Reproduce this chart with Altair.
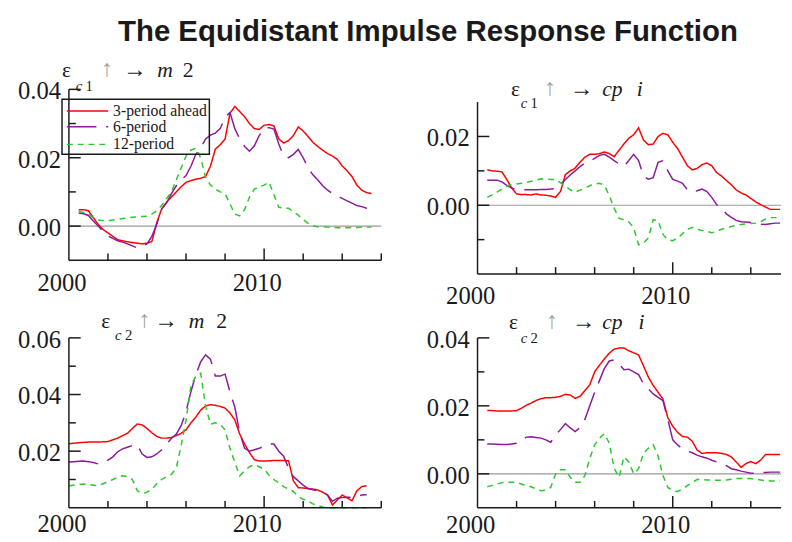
import altair as alt
import pandas as pd

SERIES = ["3-period ahead", "6-period", "12-period"]
COLORS = ["#ff0000", "#8a1a9a", "#2ac82a"]
DASHES = [[1, 0], [30, 10], [6, 5]]
INK = "#1a1a1a"
ARROW_GREY = "#a0a0a0"
SERIF = "Liberation Serif"

# quarterly time grids
years_a = [2000.5 + 0.25 * i for i in range(61)]   # 2000.5 .. 2015.5
years_b = [2000.0 + 0.25 * i for i in range(62)]   # 2000.0 .. 2015.25

# ---- panel 1: eps_c1 -> m2 ----
p1_red = [0.0048, 0.0048, 0.0045, 0.0025, 0.0005, -0.0010, -0.0020, -0.0030, -0.0040, -0.0043,
          -0.0046, -0.0048, -0.0050, -0.0052, -0.0050, -0.0045, 0.0010, 0.0050, 0.0070, 0.0085,
          0.0100, 0.0115, 0.0128, 0.0133, 0.0137, 0.0140, 0.0145, 0.0175, 0.0225, 0.0238,
          0.0255, 0.0330, 0.0350, 0.0335, 0.0320, 0.0300, 0.0285, 0.0283, 0.0295, 0.0297,
          0.0293, 0.0255, 0.0243, 0.0250, 0.0265, 0.0290, 0.0278, 0.0262, 0.0245, 0.0233,
          0.0222, 0.0212, 0.0205, 0.0195, 0.0176, 0.0162, 0.0145, 0.0120, 0.0105, 0.0098,
          0.0095]
p1_purple = [0.0038, 0.0036, 0.0031, 0.0015, 0.0000, -0.0015, -0.0029, -0.0036, -0.0043, -0.0047,
             -0.0052, -0.0058, -0.0064, -0.0060, -0.0052, -0.0030, 0.0005, 0.0050, 0.0067, 0.0095,
             0.0118, 0.0135, 0.0148, 0.0175, 0.0210, 0.0228, 0.0255, 0.0266, 0.0272, 0.0285,
             0.0319, 0.0332, 0.0285, 0.0255, 0.0233, 0.0219, 0.0235, 0.0265, 0.0286, 0.0288,
             0.0284, 0.0240, 0.0205, 0.0200, 0.0210, 0.0224, 0.0200, 0.0170, 0.0150, 0.0135,
             0.0118, 0.0105, 0.0095, 0.0088, 0.0081, 0.0074, 0.0067, 0.0060, 0.0057, 0.0052,
             0.0048]
p1_green = [0.0043, 0.0040, 0.0036, 0.0024, 0.0018, 0.0016, 0.0016, 0.0018, 0.0020, 0.0022,
            0.0024, 0.0026, 0.0027, 0.0028, 0.0029, 0.0035, 0.0045, 0.0060, 0.0080, 0.0100,
            0.0135, 0.0170, 0.0205, 0.0222, 0.0228, 0.0200, 0.0143, 0.0120, 0.0108, 0.0100,
            0.0095, 0.0065, 0.0035, 0.0030, 0.0048, 0.0085, 0.0108, 0.0115, 0.0120, 0.0128,
            0.0092, 0.0055, 0.0052, 0.0052, 0.0042, 0.0032, 0.0019, 0.0008, 0.0000, -0.0002,
            -0.0002, -0.0003, -0.0004, -0.0005, -0.0005, -0.0005, -0.0004, -0.0004, -0.0003, -0.0003,
            -0.0003]

# ---- panel 2: eps_c1 -> cpi ----
p2_red = [0.0103, 0.0100, 0.0099, 0.0097, 0.0075, 0.0050, 0.0033, 0.0031, 0.0031, 0.0030,
          0.0033, 0.0030, 0.0029, 0.0027, 0.0023, 0.0040, 0.0089, 0.0100, 0.0108, 0.0125,
          0.0140, 0.0148, 0.0148, 0.0150, 0.0155, 0.0150, 0.0141, 0.0160, 0.0178, 0.0195,
          0.0205, 0.0225, 0.0190, 0.0176, 0.0178, 0.0200, 0.0209, 0.0205, 0.0183, 0.0165,
          0.0140, 0.0115, 0.0103, 0.0107, 0.0118, 0.0123, 0.0115, 0.0095, 0.0085, 0.0072,
          0.0060, 0.0045, 0.0036, 0.0030, 0.0020, 0.0010, 0.0002, -0.0005, -0.0012, -0.0012,
          -0.0012]
p2_purple = [0.0073, 0.0073, 0.0073, 0.0068, 0.0058, 0.0050, 0.0046, 0.0045, 0.0045, 0.0045,
             0.0045, 0.0046, 0.0046, 0.0047, 0.0049, 0.0060, 0.0075, 0.0088, 0.0100, 0.0112,
             0.0123, 0.0128, 0.0136, 0.0145, 0.0148, 0.0140, 0.0130, 0.0120, 0.0113, 0.0130,
             0.0148, 0.0130, 0.0085, 0.0076, 0.0080, 0.0125, 0.0130, 0.0100, 0.0075, 0.0070,
             0.0064, 0.0045, 0.0038, 0.0042, 0.0047, 0.0040, 0.0023, 0.0002, -0.0010, -0.0025,
             -0.0035, -0.0044, -0.0048, -0.0049, -0.0050, -0.0052, -0.0055, -0.0056, -0.0054, -0.0052,
             -0.0052]
p2_green = [0.0023, 0.0030, 0.0038, 0.0047, 0.0056, 0.0060, 0.0062, 0.0064, 0.0066, 0.0070,
            0.0073, 0.0077, 0.0076, 0.0075, 0.0075, 0.0065, 0.0056, 0.0045, 0.0038, 0.0044,
            0.0049, 0.0057, 0.0061, 0.0064, 0.0058, 0.0028, -0.0009, -0.0038, -0.0042, -0.0048,
            -0.0066, -0.0115, -0.0110, -0.0095, -0.0042, -0.0045, -0.0085, -0.0100, -0.0103, -0.0095,
            -0.0083, -0.0070, -0.0064, -0.0070, -0.0073, -0.0076, -0.0080, -0.0076, -0.0070, -0.0066,
            -0.0062, -0.0058, -0.0056, -0.0054, -0.0053, -0.0052, -0.0048, -0.0040, -0.0036, -0.0036,
            -0.0036]

# ---- panel 3: eps_c2 -> m2 ----
p3_red = [0.0226, 0.0228, 0.0230, 0.0231, 0.0232, 0.0232, 0.0232, 0.0233, 0.0234, 0.0240,
          0.0246, 0.0255, 0.0263, 0.0280, 0.0296, 0.0293, 0.0280, 0.0265, 0.0252, 0.0246,
          0.0246, 0.0248, 0.0255, 0.0263, 0.0275, 0.0300, 0.0320, 0.0345, 0.0360, 0.0364,
          0.0362, 0.0358, 0.0352, 0.0335, 0.0310, 0.0260, 0.0225, 0.0195, 0.0170, 0.0165,
          0.0165, 0.0166, 0.0167, 0.0167, 0.0167, 0.0166, 0.0095, 0.0071, 0.0070, 0.0068,
          0.0066, 0.0063, 0.0055, 0.0045, 0.0010, 0.0028, 0.0045, 0.0035, 0.0025, 0.0060,
          0.0075, 0.0078]
p3_purple = [0.0162, 0.0163, 0.0164, 0.0165, 0.0163, 0.0160, 0.0155, 0.0158, 0.0168, 0.0180,
             0.0198, 0.0208, 0.0214, 0.0220, 0.0223, 0.0190, 0.0178, 0.0180, 0.0190, 0.0205,
             0.0225, 0.0245, 0.0260, 0.0290, 0.0340, 0.0410, 0.0470, 0.0515, 0.0540, 0.0525,
             0.0465, 0.0465, 0.0472, 0.0410, 0.0355, 0.0265, 0.0210, 0.0200, 0.0205, 0.0210,
             0.0218, 0.0226, 0.0225, 0.0200, 0.0182, 0.0140, 0.0110, 0.0095, 0.0080, 0.0068,
             0.0064, 0.0060, 0.0055, 0.0045, 0.0023, 0.0034, 0.0036, 0.0037, 0.0037, 0.0040,
             0.0045, 0.0046]
p3_green = [0.0078, 0.0080, 0.0082, 0.0084, 0.0082, 0.0080, 0.0078, 0.0085, 0.0092, 0.0100,
            0.0108, 0.0113, 0.0110, 0.0100, 0.0060, 0.0050, 0.0055, 0.0066, 0.0085, 0.0100,
            0.0110, 0.0118, 0.0140, 0.0220, 0.0310, 0.0430, 0.0465, 0.0475, 0.0360, 0.0295,
            0.0300, 0.0295, 0.0275, 0.0210, 0.0160, 0.0113, 0.0130, 0.0145, 0.0153, 0.0145,
            0.0136, 0.0115, 0.0100, 0.0088, 0.0075, 0.0066, 0.0058, 0.0040, 0.0030, 0.0024,
            0.0014, 0.0008, 0.0003, 0.0000, 0.0000, 0.0000, 0.0000, 0.0000, 0.0000, 0.0000,
            0.0000, 0.0000]

# ---- panel 4: eps_c2 -> cpi ----
p4_red = [0.0186, 0.0186, 0.0185, 0.0185, 0.0185, 0.0185, 0.0186, 0.0193, 0.0202, 0.0208,
          0.0216, 0.0221, 0.0224, 0.0224, 0.0225, 0.0228, 0.0234, 0.0232, 0.0222, 0.0228,
          0.0245, 0.0262, 0.0300, 0.0320, 0.0338, 0.0355, 0.0367, 0.0370, 0.0370, 0.0362,
          0.0356, 0.0350, 0.0318, 0.0285, 0.0260, 0.0240, 0.0220, 0.0165, 0.0140, 0.0122,
          0.0110, 0.0108, 0.0096, 0.0070, 0.0060, 0.0062, 0.0062, 0.0062, 0.0060, 0.0057,
          0.0050, 0.0035, 0.0019, 0.0030, 0.0036, 0.0030, 0.0040, 0.0057, 0.0057, 0.0057,
          0.0057]
p4_purple = [0.0088, 0.0088, 0.0087, 0.0086, 0.0086, 0.0088, 0.0090, 0.0098, 0.0108, 0.0109,
             0.0107, 0.0105, 0.0100, 0.0093, 0.0115, 0.0130, 0.0148, 0.0135, 0.0124, 0.0136,
             0.0160, 0.0200, 0.0240, 0.0275, 0.0310, 0.0332, 0.0335, 0.0324, 0.0306, 0.0308,
             0.0300, 0.0292, 0.0265, 0.0250, 0.0235, 0.0225, 0.0215, 0.0160, 0.0100, 0.0085,
             0.0073, 0.0067, 0.0062, 0.0055, 0.0050, 0.0046, 0.0040, 0.0035, 0.0030, 0.0024,
             0.0015, 0.0012, 0.0008, 0.0005, 0.0002, 0.0002, 0.0003, 0.0004, 0.0005, 0.0005,
             0.0005]
p4_green = [-0.0038, -0.0034, -0.0030, -0.0026, -0.0025, -0.0025, -0.0025, -0.0030, -0.0036, -0.0038,
            -0.0045, -0.0050, -0.0048, -0.0040, 0.0000, 0.0012, 0.0012, -0.0010, -0.0025, -0.0025,
            -0.0005, 0.0045, 0.0085, 0.0105, 0.0118, 0.0090, 0.0016, -0.0010, 0.0050, 0.0035,
            0.0000, 0.0015, 0.0060, 0.0075, 0.0086, 0.0052, -0.0005, -0.0040, -0.0050, -0.0052,
            -0.0045, -0.0035, -0.0025, -0.0017, -0.0017, -0.0018, -0.0018, -0.0019, -0.0019, -0.0018,
            -0.0016, -0.0014, -0.0014, -0.0014, -0.0014, -0.0016, -0.0018, -0.0020, -0.0021, -0.0021,
            -0.0021]

# tick positions / labels
x_major = [2010]
x_minor_full = [2002, 2004, 2006, 2008, 2012, 2014, 2016]
x_minor_cut = [2002, 2004, 2006, 2008, 2012, 2014]
x_labels = [2000, 2010]

MAIN_TITLE = "The Equidistant Impulse Response Function"

# panel titles: (text, dx, dy, size, style, color)
T1 = [("ε", -7, -13, 22, "normal", INK), ("c", 7, 2, 15, "italic", INK), ("1", 17, 2, 15, "normal", INK),
      ("↑", 33, -14, 24, "normal", ARROW_GREY), ("→", 55, -13, 24, "normal", INK),
      ("m", 90, -13, 22, "italic", INK), ("2", 116, -13, 22, "normal", INK)]
T2 = [("ε", 34, 7, 22, "normal", INK), ("c", 44, 19, 15, "italic", INK), ("1", 54, 19, 15, "normal", INK),
      ("↑", 68, 6, 24, "normal", ARROW_GREY), ("→", 94, 7, 24, "normal", INK),
      ("cp", 127, 7, 22, "italic", INK), ("i", 162, 7, 22, "italic", INK)]
T3 = [("ε", 33, -10, 22, "normal", INK), ("c", 47, 2, 15, "italic", INK), ("2", 57, 2, 15, "normal", INK),
      ("↑", 71, -11, 24, "normal", ARROW_GREY), ("→", 87, -10, 24, "normal", INK),
      ("m", 122, -10, 22, "italic", INK), ("2", 150, -10, 22, "normal", INK)]
T4 = [("ε", 32, -9, 22, "normal", INK), ("c", 44, 5, 15, "italic", INK), ("2", 54, 5, 15, "normal", INK),
      ("↑", 70, -10, 24, "normal", ARROW_GREY), ("→", 96, -9, 24, "normal", INK),
      ("cp", 127, -9, 22, "italic", INK), ("i", 164, -9, 22, "italic", INK)]


def one():
    return alt.Data(values=[{}])


def text_piece(txt, dx, dy, size, style="normal", color=INK, weight="normal",
               font=SERIF, baseline="alphabetic"):
    return alt.Chart(one()).mark_text(
        text=txt, font=font, fontSize=size, fontStyle=style, fontWeight=weight,
        color=color, align="left", baseline=baseline,
    ).encode(x=alt.value(dx), y=alt.value(dy))


def panel(years, red, purple, green, xmax, ydom, ytop, ylab, ymajor, yminor, xminor,
          w, h, lpad, title, zero=True, legend=False, main=False):
    n = len(years)
    df = pd.DataFrame({
        "year": list(years) * 3,
        "value": list(red) + list(purple) + list(green),
        "series": [SERIES[0]] * n + [SERIES[1]] * n + [SERIES[2]] * n,
    })
    xs = alt.Scale(domain=[2000, xmax], nice=False, zero=False)
    ys = alt.Scale(domain=ydom, nice=False, zero=False)

    layers = []
    if zero:
        layers.append(alt.Chart(one()).mark_rule(color="#9a9a9a", strokeWidth=1.2).encode(
            x=alt.XDatum(2000, scale=xs, axis=None), x2=alt.datum(xmax),
            y=alt.YDatum(0, scale=ys, axis=None)))

    lines = alt.Chart(df).mark_line(strokeWidth=1.5).encode(
        x=alt.X("year:Q", scale=xs, axis=None),
        y=alt.Y("value:Q", scale=ys, axis=None),
        color=alt.Color("series:N", scale=alt.Scale(domain=SERIES, range=COLORS), legend=None),
        strokeDash=alt.StrokeDash("series:N", scale=alt.Scale(domain=SERIES, range=DASHES),
                                  legend=None),
    )
    layers.append(lines)

    # axis lines
    layers.append(alt.Chart(one()).mark_rule(color=INK, strokeWidth=1.5).encode(
        x=alt.value(0), y=alt.YDatum(ydom[0], scale=ys, axis=None), y2=alt.datum(ytop)))
    layers.append(alt.Chart(one()).mark_rule(color=INK, strokeWidth=1.5).encode(
        x=alt.XDatum(2000, scale=xs, axis=None), x2=alt.datum(xmax), y=alt.value(h)))
    # y ticks (inward)
    layers.append(alt.Chart(pd.DataFrame({"v": ymajor})).mark_rule(color=INK, strokeWidth=1.5).encode(
        y=alt.Y("v:Q", scale=ys, axis=None), x=alt.value(0), x2=alt.value(12)))
    layers.append(alt.Chart(pd.DataFrame({"v": yminor})).mark_rule(color=INK, strokeWidth=1.5).encode(
        y=alt.Y("v:Q", scale=ys, axis=None), x=alt.value(0), x2=alt.value(7)))
    # x ticks (inward)
    layers.append(alt.Chart(pd.DataFrame({"v": x_major})).mark_rule(color=INK, strokeWidth=1.5).encode(
        x=alt.X("v:Q", scale=xs, axis=None), y=alt.value(h), y2=alt.value(h - 12)))
    layers.append(alt.Chart(pd.DataFrame({"v": xminor})).mark_rule(color=INK, strokeWidth=1.5).encode(
        x=alt.X("v:Q", scale=xs, axis=None), y=alt.value(h), y2=alt.value(h - 7)))
    # tick labels
    layers.append(alt.Chart(pd.DataFrame({"v": x_labels})).mark_text(
        font=SERIF, fontSize=25, color=INK, baseline="top", align="center", dx=-7).encode(
        x=alt.X("v:Q", scale=xs, axis=None), y=alt.value(h + lpad),
        text=alt.Text("v:Q", format="d")))
    layers.append(alt.Chart(pd.DataFrame({"v": ylab})).mark_text(
        font=SERIF, fontSize=25, color=INK, baseline="middle", align="right", dy=2).encode(
        y=alt.Y("v:Q", scale=ys, axis=None), x=alt.value(-8),
        text=alt.Text("v:Q", format=".2f")))

    for (txt, dx, dy, size, style, color) in title:
        layers.append(text_piece(txt, dx, dy, size, style, color))

    if legend:
        layers.append(alt.Chart(one()).mark_rect(fill="white", fillOpacity=0, stroke=INK,
                                                 strokeWidth=1.5).encode(
            x=alt.value(-7), x2=alt.value(143), y=alt.value(10), y2=alt.value(66)))
        for k, yk in enumerate([22, 38, 56]):
            layers.append(alt.Chart(one()).mark_rule(color=COLORS[k], strokeDash=DASHES[k],
                                                     strokeWidth=1.5).encode(
                x=alt.value(-2), x2=alt.value(40), y=alt.value(yk)))
            layers.append(text_piece(SERIES[k], 45, yk, 16, baseline="middle"))

    if main:
        layers.append(text_piece(MAIN_TITLE, 50, -49, 29.9, weight="bold", font="Liberation Sans"))

    return alt.layer(*layers).properties(width=w, height=h)


p1 = panel(years_a, p1_red, p1_purple, p1_green, 2016, [-0.01, 0.04], 0.04,
           [0.0, 0.02, 0.04], [0.0, 0.02, 0.04], [0.01, 0.03], x_minor_full,
           318, 174, 11, T1, zero=True, legend=True, main=True)
p2 = panel(years_a, p2_red, p2_purple, p2_green, 2015.55, [-0.02, 0.0337], 0.03,
           [0.0, 0.02], [0.0, 0.02], [-0.01, 0.01], x_minor_cut,
           309, 188, 11, T2, zero=True)
p3 = panel(years_b, p3_red, p3_purple, p3_green, 2016, [0.0, 0.06], 0.06,
           [0.02, 0.04, 0.06], [0.02, 0.04, 0.06], [0.01, 0.03, 0.05], x_minor_full,
           318, 173, 5, T3, zero=False)
p4 = panel(years_a, p4_red, p4_purple, p4_green, 2015.55, [-0.01, 0.04], 0.04,
           [0.0, 0.02, 0.04], [0.0, 0.02, 0.04], [0.01, 0.03], x_minor_cut,
           309, 173, 6, T4, zero=True)

chart = alt.concat(
    p1, p2, p3, p4, columns=2, spacing={"row": 65, "column": 98}, bounds="flush"
).properties(
    padding={"left": 10, "top": 5, "right": 0, "bottom": 0}
).configure(background="white").configure_view(stroke=None)

chart.save("out.html", embed_options={"renderer": "svg", "actions": False})
